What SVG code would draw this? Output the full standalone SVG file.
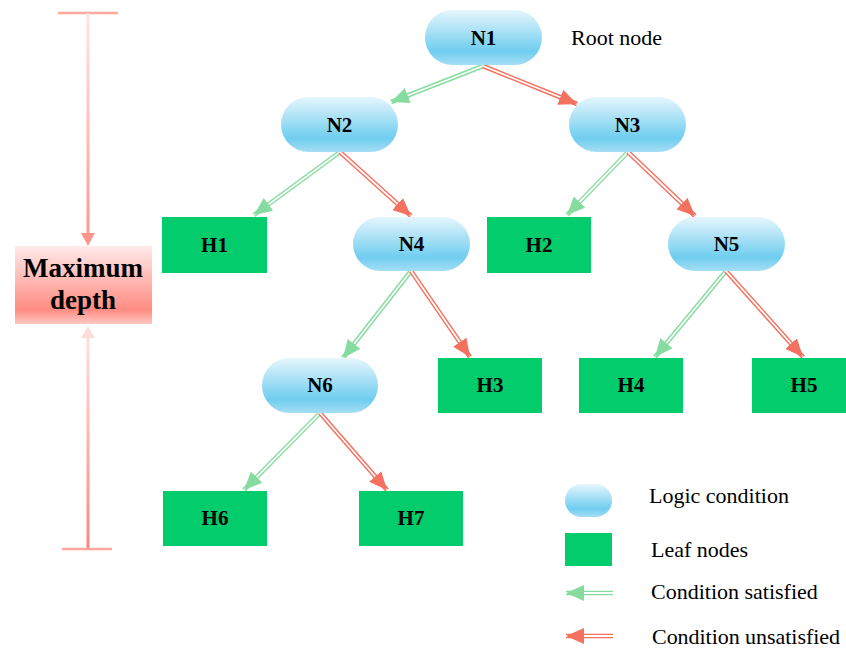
<svg xmlns="http://www.w3.org/2000/svg" xmlns:xlink="http://www.w3.org/1999/xlink" width="846" height="648" viewBox="0 0 846 648">
<defs>
<style>
.lbl{font-family:"Liberation Serif","Tinos","Times New Roman","DejaVu Serif",serif;font-weight:bold;font-size:21px;fill:#000;text-anchor:middle}
.txt{font-family:"Liberation Serif","Tinos","Times New Roman","DejaVu Serif",serif;font-size:22px;fill:#000}
.pill{fill:url(#pillG)}
.leaf{fill:#02cc6b}
.gO{fill:none;stroke:#86dc9f;stroke-width:4.6}
.rO{fill:none;stroke:#f4705f;stroke-width:4.6}
.in{fill:none;stroke:#fff;stroke-width:1.8}
.gH{fill:none;stroke:none;marker-end:url(#gArr)}
.rH{fill:none;stroke:none;marker-end:url(#rArr)}
</style>
<linearGradient id="pillG" x1="0" y1="0" x2="0" y2="1">
<stop offset="0" stop-color="#e6f6fd"/>
<stop offset="0.75" stop-color="#6fcdef"/>
<stop offset="1" stop-color="#a5def4"/>
</linearGradient>
<linearGradient id="boxG" x1="0" y1="0" x2="0" y2="1">
<stop offset="0" stop-color="#ffeaea"/>
<stop offset="0.82" stop-color="#ff8c82"/>
<stop offset="1" stop-color="#ffc9c3"/>
</linearGradient>
<linearGradient id="lineTop" gradientUnits="userSpaceOnUse" x1="0" y1="13" x2="0" y2="245">
<stop offset="0" stop-color="#ffe6e3"/>
<stop offset="1" stop-color="#ff948a"/>
</linearGradient>
<linearGradient id="lineBot" gradientUnits="userSpaceOnUse" x1="0" y1="327" x2="0" y2="549">
<stop offset="0" stop-color="#ffe3e0"/>
<stop offset="1" stop-color="#ff857a"/>
</linearGradient>
<marker id="gArr" markerUnits="userSpaceOnUse" markerWidth="19" markerHeight="16" refX="18" refY="8" orient="auto" viewBox="0 0 19 16">
<path d="M0,0 L18,8 L0,16 Z" fill="#86dc9f"/>
</marker>
<marker id="rArr" markerUnits="userSpaceOnUse" markerWidth="19" markerHeight="16" refX="18" refY="8" orient="auto" viewBox="0 0 19 16">
<path d="M0,0 L18,8 L0,16 Z" fill="#f4705f"/>
</marker>
<path id="c1" d="M483,66 L391,102"/>
<path id="c2" d="M483,66 L577,104"/>
<path id="c3" d="M340,152 L254,215"/>
<path id="c4" d="M340,152 L411,216"/>
<path id="c5" d="M628,152 L567,215"/>
<path id="c6" d="M628,152 L695,216"/>
<path id="c7" d="M411,271 L343,358"/>
<path id="c8" d="M411,271 L470,357"/>
<path id="c9" d="M726,271 L655,357"/>
<path id="c10" d="M726,271 L803,357"/>
<path id="c11" d="M320,413 L244,490"/>
<path id="c12" d="M320,413 L387,490"/>
<path id="lg" d="M613,593 L566,593"/>
<path id="lr" d="M613,636 L566,636"/>
</defs>
<rect width="846" height="648" fill="#fff"/>

<g id="depth">
<line x1="58" y1="13" x2="118" y2="13" stroke="#ffa89f" stroke-width="2.5"/>
<line x1="88" y1="13" x2="88" y2="234" stroke="url(#lineTop)" stroke-width="3"/>
<path d="M81,233 L95,233 L88,246 Z" fill="#ff958b"/>
<path d="M81,338 L95,338 L88,326 Z" fill="#ffdcd8"/>
<line x1="88" y1="337" x2="88" y2="549" stroke="url(#lineBot)" stroke-width="3"/>
<line x1="62" y1="549" x2="112" y2="549" stroke="#ffa89f" stroke-width="2.5"/>
<rect x="15" y="246" width="137" height="78" fill="url(#boxG)"/>
<text class="lbl" x="83" y="277" style="font-size:27px">Maximum</text>
<text class="lbl" x="83" y="309" style="font-size:27px">depth</text>
</g>

<g id="connectors">
<use xlink:href="#c1" class="gO"/><use xlink:href="#c1" class="in"/><use xlink:href="#c1" class="gH"/>
<use xlink:href="#c2" class="rO"/><use xlink:href="#c2" class="in"/><use xlink:href="#c2" class="rH"/>
<use xlink:href="#c3" class="gO"/><use xlink:href="#c3" class="in"/><use xlink:href="#c3" class="gH"/>
<use xlink:href="#c4" class="rO"/><use xlink:href="#c4" class="in"/><use xlink:href="#c4" class="rH"/>
<use xlink:href="#c5" class="gO"/><use xlink:href="#c5" class="in"/><use xlink:href="#c5" class="gH"/>
<use xlink:href="#c6" class="rO"/><use xlink:href="#c6" class="in"/><use xlink:href="#c6" class="rH"/>
<use xlink:href="#c7" class="gO"/><use xlink:href="#c7" class="in"/><use xlink:href="#c7" class="gH"/>
<use xlink:href="#c8" class="rO"/><use xlink:href="#c8" class="in"/><use xlink:href="#c8" class="rH"/>
<use xlink:href="#c9" class="gO"/><use xlink:href="#c9" class="in"/><use xlink:href="#c9" class="gH"/>
<use xlink:href="#c10" class="rO"/><use xlink:href="#c10" class="in"/><use xlink:href="#c10" class="rH"/>
<use xlink:href="#c11" class="gO"/><use xlink:href="#c11" class="in"/><use xlink:href="#c11" class="gH"/>
<use xlink:href="#c12" class="rO"/><use xlink:href="#c12" class="in"/><use xlink:href="#c12" class="rH"/>
</g>

<g id="N1"><rect class="pill" x="425" y="10" width="117" height="55" rx="27.5"/><text class="lbl" x="483.5" y="45">N1</text></g>
<g id="N2"><rect class="pill" x="281" y="97" width="117" height="55" rx="27.5"/><text class="lbl" x="339.5" y="132">N2</text></g>
<g id="N3"><rect class="pill" x="569" y="97" width="117" height="55" rx="27.5"/><text class="lbl" x="627.5" y="132">N3</text></g>
<g id="N4"><rect class="pill" x="353" y="217" width="117" height="54" rx="27"/><text class="lbl" x="411.5" y="251">N4</text></g>
<g id="N5"><rect class="pill" x="668" y="217" width="117" height="54" rx="27"/><text class="lbl" x="726.5" y="251">N5</text></g>
<g id="N6"><rect class="pill" x="262" y="358" width="116" height="55" rx="27.5"/><text class="lbl" x="320" y="392">N6</text></g>

<g id="H1"><rect class="leaf" x="162" y="217" width="105" height="56"/><text class="lbl" x="214.5" y="252">H1</text></g>
<g id="H2"><rect class="leaf" x="487" y="217" width="104" height="56"/><text class="lbl" x="539" y="252">H2</text></g>
<g id="H3"><rect class="leaf" x="438" y="358" width="104" height="55"/><text class="lbl" x="490" y="392">H3</text></g>
<g id="H4"><rect class="leaf" x="579" y="358" width="104" height="55"/><text class="lbl" x="631" y="392">H4</text></g>
<g id="H5"><rect class="leaf" x="752" y="358" width="104" height="55"/><text class="lbl" x="804" y="392">H5</text></g>
<g id="H6"><rect class="leaf" x="163" y="491" width="104" height="55"/><text class="lbl" x="215" y="525">H6</text></g>
<g id="H7"><rect class="leaf" x="359" y="491" width="104" height="55"/><text class="lbl" x="411" y="525">H7</text></g>

<text class="txt" x="571" y="45">Root node</text>

<g id="legend">
<rect class="pill" x="565" y="484" width="47" height="33" rx="16.5"/>
<text class="txt" x="649" y="503">Logic condition</text>
<rect class="leaf" x="565" y="533" width="47" height="33"/>
<text class="txt" x="651" y="557">Leaf nodes</text>
<use xlink:href="#lg" class="gO"/><use xlink:href="#lg" class="in"/><use xlink:href="#lg" class="gH"/>
<text class="txt" x="651" y="599">Condition satisfied</text>
<use xlink:href="#lr" class="rO"/><use xlink:href="#lr" class="in"/><use xlink:href="#lr" class="rH"/>
<text class="txt" x="652" y="644" textLength="188">Condition unsatisfied</text>
</g>
</svg>
